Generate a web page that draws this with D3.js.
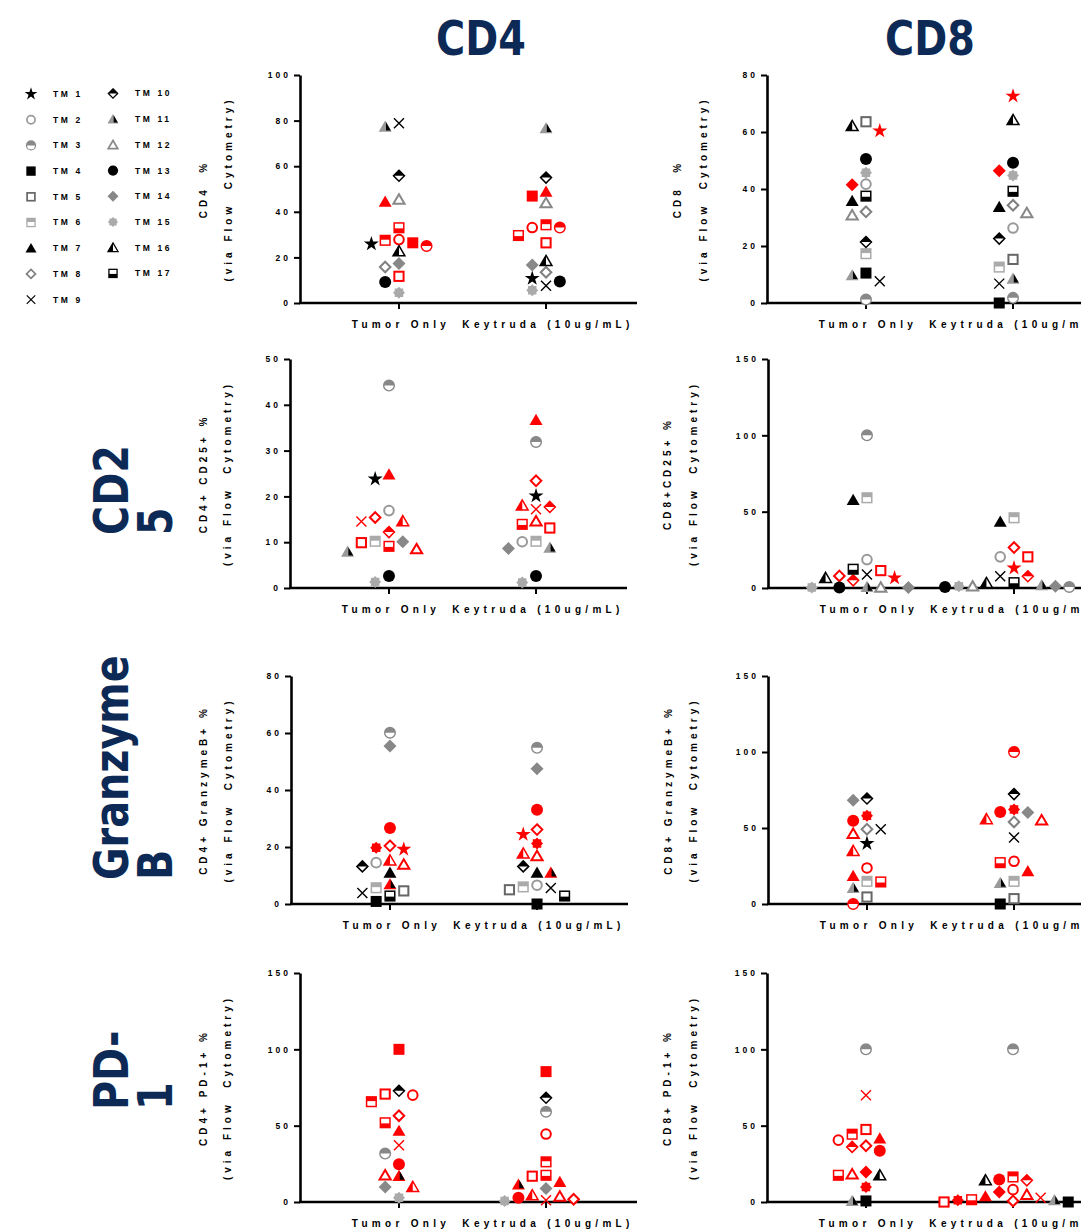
<!DOCTYPE html>
<html>
<head>
<meta charset="utf-8">
<script src="https://cdn.jsdelivr.net/npm/d3@7"></script>
<style>
  body { margin: 0; background: #fff; }
  svg { display: block; font-family: "Liberation Sans", Arial, sans-serif; }
</style>
</head>
<body>
<svg id="chart" width="1081" height="1231"></svg>
<script>
// ---- data (index 0 = TM 1 ... index 16 = TM 17, null = not measured) ----
const patients = ["TM 1", "TM 2", "TM 3", "TM 4", "TM 5", "TM 6", "TM 7", "TM 8", "TM 9",
                  "TM 10", "TM 11", "TM 12", "TM 13", "TM 14", "TM 15", "TM 16", "TM 17"];
const groups = ["Tumor Only", "Keytruda (10ug/mL)"];
const columnTitles = ["CD4", "CD8"];
const rowTitles = [null, ["CD2", "5"], ["Granzyme", "B"], ["PD-", "1"]];

const cd4Tumor    = [25.9, 27.8, 25, 26.4, 11.7, 27.5, 44.4, 15.8, 78.8, 55.8, 77.3, 45.4, 9.2, 17.3, 4.5, 22.7, 33];
const cd4Keytruda = [10.8, 33.1, 33.1, 46.9, 26.4, 34.3, 48.8, 13.5, 7.6, 55, 76.6, 43.9, 9.4, 16.7, 5.6, 18.4, 29.6];
const cd4Red = [2, 3, 4, 5, 6, 7, 17];
const cd4Ticks = [0, 20, 40, 60, 80, 100];

const cd8Tumor    = [60.4, 41.7, 1.2, 10.5, 63.6, 17.3, 35.8, 32, 7.6, 21.4, 9.7, 30.8, 50.5, 41.5, 45.7, 62.1, 37.5];
const cd8Keytruda = [72.6, 26.3, 1.8, 0, 15.3, 12.6, 33.7, 34.3, 6.8, 22.6, 8.5, 31.6, 49.2, 46.4, 44.7, 64.2, 39.2];
const cd8Red = [1, 14];
const cd8Ticks = [0, 20, 40, 60, 80];

const cd4Cd25Tumor    = [23.8, 16.9, 44.2, null, 9.9, 10.2, 24.8, 15.4, 14.5, 12.2, 7.9, 8.5, 2.6, 10.1, 1.3, 14.6, 9.1];
const cd4Cd25Keytruda = [20.1, 10.1, 31.9, null, 13.1, 10.2, 36.7, 23.4, 17.2, 17.7, 8.8, 14.6, 2.6, 8.6, 1.2, 18, 13.9];
const cd4Cd25Red = [5, 7, 8, 9, 10, 12, 16, 17];
const cd4Cd25Ticks = [0, 10, 20, 30, 40, 50];

const cd8Cd25Tumor    = [6.6, 18.6, 100, null, 11.4, 59.1, 57.6, 7.9, 8.8, 5, 0.7, 0.4, 0.4, 0.4, 0.4, 6.6, 12.3];
const cd8Cd25Keytruda = [13.1, 20.4, 0.7, null, 20.4, 46, 43.4, 26.5, 7.7, 7.7, 1.8, 1.1, 0.7, 1.1, 1.1, 3.3, 3.5];
const cd8Cd25Red = [1, 5, 8, 10];
const cd8Cd25Ticks = [0, 50, 100, 150];

const cd4GzbTumor    = [19.2, 14.5, 60.1, 0.9, 4.6, 5.7, 11, 20.4, 3.9, 13.2, 6.9, 13.9, 26.7, 55.4, 19.7, 15.3, 2.8];
const cd4GzbKeytruda = [24.4, 6.6, 54.8, 0, 5, 6, 11, 26.1, 5.6, 13.2, 11, 16.9, 33.1, 47.5, 21.2, 17.7, 2.8];
const cd4GzbRed = [1, 8, 11, 12, 13, 15, 16];
const cd4GzbTicks = [0, 20, 40, 60, 80];

const cd8GzbTumor    = [39.8, 23.7, 0, null, 4.6, 14.9, 18.4, 49.2, 49.2, 69.4, 10.5, 46.3, 54.7, 68.3, 58, 34.9, 14.5];
const cd8GzbKeytruda = [null, 28.1, 100, 0, 3.5, 14.9, 21.5, 54, 43.7, 72.3, 13.8, 55.1, 60.6, 60.2, 62.2, 55.8, 27.2];
const cd8GzbRed = [2, 3, 7, 12, 13, 15, 16, 17];
const cd8GzbTicks = [0, 50, 100, 150];

const cd4Pd1Tumor    = [null, 70, 31.7, 100, 70.7, 65.7, 46.6, 56.5, 37.2, 72.9, 17.1, 17.5, 24.7, 9.9, 2.8, 9.9, 51.9];
const cd4Pd1Keytruda = [null, 44.5, 59.1, 85.4, 16.9, 26.3, 13.1, 1.8, 1.1, 68.3, 11.4, 3.7, 2.8, 8.8, 0.7, 4.4, 17.5];
const cd4Pd1Red = [2, 4, 5, 6, 7, 8, 9, 11, 12, 13, 16, 17];
const cd4Pd1Ticks = [0, 50, 100, 150];

const cd8Pd1Tumor    = [null, 40.5, 100, 0.7, 47.5, 44.4, 41.6, 36.8, 70, 36.1, 0.7, 18.2, 33.5, 19.7, 9.9, 17.5, 17.5];
const cd8Pd1Keytruda = [null, 8.1, 100, 0, 0, 16.4, 3.7, 0.7, 2.8, 14.2, 1.1, 4.8, 14.7, 6.6, 1.1, 14.2, 1.5];
const cd8Pd1Red = [2, 5, 6, 7, 8, 9, 10, 12, 13, 14, 15, 17];
const cd8Pd1Ticks = [0, 50, 100, 150];

// ---- look ----
const navy = "#0c2a55";
const red = "#ff0000";
const baseColor = ["#000", "#999", "#888", "#000", "#666", "#aaa", "#000", "#808080", "#000",
                   "#000", "#999", "#888", "#000", "#888", "#aaa", "#000", "#000"];

// one panel per chart, layout only
const panels = [
  { tumor: cd4Tumor, key: cd4Keytruda, red: cd4Red, ticks: cd4Ticks,
    title: "CD4  %", axisX: 300, top: 75, bottom: 303, tx: [203, 228] },
  { tumor: cd8Tumor, key: cd8Keytruda, red: cd8Red, ticks: cd8Ticks,
    title: "CD8  %", axisX: 767, top: 75, bottom: 303, tx: [677, 703] },
  { tumor: cd4Cd25Tumor, key: cd4Cd25Keytruda, red: cd4Cd25Red, ticks: cd4Cd25Ticks,
    title: "CD4+ CD25+ %", axisX: 290, top: 359, bottom: 588, tx: [203, 227] },
  { tumor: cd8Cd25Tumor, key: cd8Cd25Keytruda, red: cd8Cd25Red, ticks: cd8Cd25Ticks,
    title: "CD8+CD25+ %", axisX: 768, top: 359, bottom: 588, tx: [667, 693] },
  { tumor: cd4GzbTumor, key: cd4GzbKeytruda, red: cd4GzbRed, ticks: cd4GzbTicks,
    title: "CD4+ GranzymeB+ %", axisX: 291, top: 676, bottom: 904, tx: [203, 228] },
  { tumor: cd8GzbTumor, key: cd8GzbKeytruda, red: cd8GzbRed, ticks: cd8GzbTicks,
    title: "CD8+ GranzymeB+ %", axisX: 768, top: 676, bottom: 904, tx: [668, 693] },
  { tumor: cd4Pd1Tumor, key: cd4Pd1Keytruda, red: cd4Pd1Red, ticks: cd4Pd1Ticks,
    title: "CD4+ PD-1+ %", axisX: 300, top: 973, bottom: 1202, tx: [203, 227] },
  { tumor: cd8Pd1Tumor, key: cd8Pd1Keytruda, red: cd8Pd1Red, ticks: cd8Pd1Ticks,
    title: "CD8+ PD-1+ %", axisX: 767, top: 973, bottom: 1202, tx: [667, 693] }
];

const svg = d3.select("#chart");
svg.append("rect").attr("width", 1081).attr("height", 1231).attr("fill", "#fff");

// draw a patient's symbol into g (centred at 0,0)
function marker(g, tm, col) {
  const w = "#fff";
  const tri = "M0,-6.2L6.5,5L-6.5,5Z";
  const dia = r => `M0,${-r}L${r},0L0,${r}L${-r},0Z`;
  switch (tm) {
    case 1:
      g.append("path").attr("d", d3.symbol(d3.symbolStar, 70)()).attr("fill", col);
      break;
    case 2:
      g.append("circle").attr("r", 4.8).attr("fill", w).attr("stroke", col).attr("stroke-width", 2);
      break;
    case 3:
      g.append("circle").attr("r", 5.3).attr("fill", w).attr("stroke", col).attr("stroke-width", 1.4);
      g.append("path").attr("d", "M-5.3,0A5.3,5.3 0 0 1 5.3,0Z").attr("fill", col);
      break;
    case 4:
      g.append("rect").attr("x", -5.5).attr("y", -5.5).attr("width", 11).attr("height", 11).attr("fill", col);
      break;
    case 5:
      g.append("rect").attr("x", -4.6).attr("y", -4.6).attr("width", 9.2).attr("height", 9.2)
        .attr("fill", w).attr("stroke", col).attr("stroke-width", 2);
      break;
    case 6:
      g.append("rect").attr("x", -4.8).attr("y", -4.8).attr("width", 9.6).attr("height", 9.6)
        .attr("fill", w).attr("stroke", col).attr("stroke-width", 1.5);
      g.append("rect").attr("x", -4.8).attr("y", -4.8).attr("width", 9.6).attr("height", 4.2).attr("fill", col);
      break;
    case 7:
      g.append("path").attr("d", tri).attr("fill", col);
      break;
    case 8:
      g.append("path").attr("d", dia(5.3)).attr("fill", w).attr("stroke", col).attr("stroke-width", 2);
      break;
    case 9:
      g.append("path").attr("d", "M-5,-5L5,5M-5,5L5,-5").attr("fill", "none")
        .attr("stroke", col).attr("stroke-width", 1.4);
      break;
    case 10:
      g.append("path").attr("d", dia(5.5)).attr("fill", w).attr("stroke", col).attr("stroke-width", 1.5);
      g.append("path").attr("d", "M-5.5,0L0,-5.5L5.5,0Z").attr("fill", col);
      break;
    case 11:
      g.append("path").attr("d", tri).attr("fill", col);
      g.append("path").attr("d", "M0,-6.2L6.5,5L0,5Z").attr("fill", "#000").attr("transform", "translate(0.8,0) scale(0.75)");
      break;
    case 12:
      g.append("path").attr("d", "M0,-5.2L5.6,4.3L-5.6,4.3Z").attr("fill", w)
        .attr("stroke", col).attr("stroke-width", 2).attr("stroke-linejoin", "miter");
      break;
    case 13:
      g.append("circle").attr("r", 6).attr("fill", col);
      break;
    case 14:
      g.append("path").attr("d", dia(6.5)).attr("fill", col);
      break;
    case 15: {
      const pts = d3.range(16).map(i => {
        const a = i * Math.PI / 8, r = i % 2 ? 4.6 : 6;
        return [r * Math.sin(a), -r * Math.cos(a)];
      });
      g.append("path").attr("d", d3.line()(pts) + "Z").attr("fill", col);
      break;
    }
    case 16:
      g.append("path").attr("d", "M0,-5.6L5.9,4.5L-5.9,4.5Z").attr("fill", w)
        .attr("stroke", col).attr("stroke-width", 1.5);
      g.append("path").attr("d", "M0,-5.6L0,4.5L-5.9,4.5Z").attr("fill", col);
      break;
    case 17:
      g.append("rect").attr("x", -4.8).attr("y", -4.8).attr("width", 9.6).attr("height", 9.6)
        .attr("fill", w).attr("stroke", col).attr("stroke-width", 1.5);
      g.append("rect").attr("x", -4.8).attr("y", 0.6).attr("width", 9.6).attr("height", 4.2).attr("fill", col);
      break;
  }
}

// spread points that would overlap sideways, like a column scatter
const step = 6.9, minDx = 12.5, minDy = 11;
function dodge(vals, y, cx) {
  const pts = vals.map((v, i) => ({ tm: i + 1, v }))
    .filter(d => d.v != null)
    .sort((a, b) => b.v - a.v);
  const placed = [];
  pts.forEach(p => {
    p.py = y(p.v);
    for (let k = 0; k < 60; k++) {
      const off = (k % 2 ? -1 : 1) * Math.ceil(k / 2) * step;
      const px = cx + off;
      if (placed.every(q => Math.abs(q.px - px) >= minDx || Math.abs(q.py - p.py) >= minDy)) {
        p.px = px;
        break;
      }
    }
    placed.push(p);
  });
  return placed.sort((a, b) => a.tm - b.tm);
}

const smallFont = (sel, size, ls) => sel
  .attr("font-size", size).attr("font-weight", "bold")
  .attr("letter-spacing", ls).attr("fill", "#000");

panels.forEach(p => {
  const g = svg.append("g");
  const y = d3.scaleLinear().domain([0, d3.max(p.ticks)]).range([p.bottom, p.top]);
  const x = d3.scalePoint().domain(groups).range([p.axisX, p.axisX + 345]).padding(0.673);

  // y axis
  const ya = g.append("g")
    .attr("transform", `translate(${p.axisX},0)`)
    .call(d3.axisLeft(y).tickValues(p.ticks).tickSize(6).tickSizeOuter(0).tickPadding(3));
  ya.select(".domain").attr("stroke-width", 2.6);
  ya.selectAll(".tick line").attr("stroke-width", 2);
  ya.selectAll(".tick text")
    .call(smallFont, 8.5, 3)
    .attr("font-family", "Liberation Sans, Arial, sans-serif");

  // x axis
  g.append("line")
    .attr("x1", p.axisX - 1).attr("x2", p.axisX + 337)
    .attr("y1", p.bottom).attr("y2", p.bottom)
    .attr("stroke", "#000").attr("stroke-width", 2.6);
  groups.forEach(grp => {
    g.append("line")
      .attr("x1", x(grp)).attr("x2", x(grp))
      .attr("y1", p.bottom).attr("y2", p.bottom + 6)
      .attr("stroke", "#000").attr("stroke-width", 2);
    g.append("text")
      .attr("x", x(grp) + 2).attr("y", p.bottom + 25)
      .attr("text-anchor", "middle")
      .call(smallFont, 10, 4.3)
      .text(grp);
  });

  // y title, two lines
  const cy = (p.top + p.bottom) / 2;
  [p.title, "(via Flow  Cytometry)"].forEach((t, i) => {
    g.append("text")
      .attr("transform", `translate(${p.tx[i]},${cy}) rotate(-90)`)
      .attr("text-anchor", "middle")
      .attr("dy", "0.35em")
      .attr("xml:space", "preserve")
      .style("white-space", "pre")
      .call(smallFont, 10, 4)
      .text(t);
  });

  // points
  [[groups[0], p.tumor], [groups[1], p.key]].forEach(([grp, vals]) => {
    dodge(vals, y, x(grp)).forEach(d => {
      const col = p.red.includes(d.tm) ? red : baseColor[d.tm - 1];
      const mg = g.append("g").attr("transform", `translate(${d.px},${d.py})`);
      marker(mg, d.tm, col);
    });
  });
});

// column titles (condensed bold, squeezed a little)
const bigFont = (sel) => sel
  .attr("font-family", "DejaVu Sans Condensed, Liberation Sans Narrow, sans-serif")
  .attr("font-weight", "bold").attr("font-size", 48).attr("fill", navy);

[[481, columnTitles[0]], [930, columnTitles[1]]].forEach(([cx, t]) => {
  svg.append("text")
    .attr("transform", `translate(${cx},55) scale(0.92,1)`)
    .attr("text-anchor", "middle").call(bigFont).text(t);
});

// row titles, rotated, two lines
const rowStart = [null, 535, 880, 1110];
rowTitles.forEach((lines, i) => {
  if (!lines) return;
  const t = svg.append("text")
    .attr("transform", `translate(128,${rowStart[i]}) rotate(-90) scale(0.92,1)`)
    .call(bigFont);
  lines.forEach((ln, j) => {
    t.append("tspan").attr("x", 0).attr("y", j * 44).text(ln);
  });
});

// legend
const legend = svg.append("g");
patients.forEach((name, i) => {
  const col = i < 9 ? 0 : 1;
  const row = col ? i - 9 : i;
  const mx = col ? 113 : 31;
  const my = (col ? 93.5 : 94) + row * 25.7;
  marker(legend.append("g").attr("transform", `translate(${mx},${my}) scale(0.85)`), i + 1, baseColor[i]);
  legend.append("text")
    .attr("x", mx + 22).attr("y", my).attr("dy", "0.35em")
    .call(smallFont, 8.5, 2.6)
    .text(name);
});
</script>
</body>
</html>
